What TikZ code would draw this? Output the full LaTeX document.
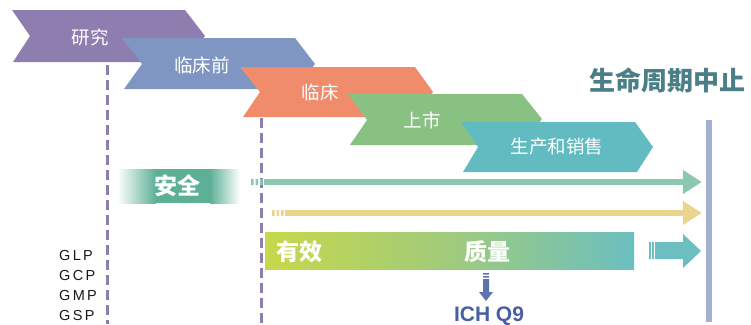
\documentclass[tikz,border=0pt]{standalone}
\usepackage{fontspec}
\setmainfont{Liberation Sans}
\newfontfamily\cjk{Noto Sans CJK SC}
\newfontfamily\gxp{Liberation Sans}[LetterSpace=16]
\usetikzlibrary{arrows.meta}
\definecolor{cPurple}{HTML}{8E7DAF}
\definecolor{cBlue}{HTML}{7F96C3}
\definecolor{cOrange}{HTML}{F08B6B}
\definecolor{cGreen}{HTML}{88C182}
\definecolor{cTeal}{HTML}{62BBC0}
\definecolor{cTitle}{HTML}{4B7F88}
\definecolor{cBar}{HTML}{A3B0D0}
\definecolor{cSafe}{HTML}{5DB096}
\definecolor{cSafeLine}{HTML}{8CC7B0}
\definecolor{cYellow}{HTML}{EBD48D}
\definecolor{cG1}{HTML}{C6D84B}
\definecolor{cG2}{HTML}{A0CB7C}
\definecolor{cG3}{HTML}{6BBFC0}
\definecolor{cBlock}{HTML}{6BBFC0}
\definecolor{cIch}{HTML}{4A5FA0}
\definecolor{cDown}{HTML}{5E72AE}
\tikzset{
  chevtext/.style={text=white, inner sep=0, font=\cjk\fontsize{18.5}{19}\selectfont},
  bigtext/.style={text=white, inner sep=0, font=\cjk\bfseries\fontsize{23}{24}\selectfont},
  gxptext/.style={anchor=base west, inner sep=0, text=black!90, font=\gxp\fontsize{14.5}{15}\selectfont},
  vdash/.style={draw=cPurple, line width=3pt, dash pattern=on 10pt off 5pt},
}
\begin{document}
\begin{tikzpicture}[x=1pt,y=-1pt]
\useasboundingbox (0,0) rectangle (751,324);
% dashed guides
\draw[vdash] (107,65) -- (107,324);
\draw[vdash] (261,118) -- (261,324);
% chevrons
\fill[cPurple] (12,10)--(185,10)--(205,36)--(185,62)--(13,62)--(30,36)--cycle;
\node[chevtext] (research) at (90,37) {研究};
\fill[cBlue] (122,38)--(295,38)--(315,64)--(295,89)--(124,89)--(142,64)--cycle;
\node[chevtext] (preclin) at (202,65) {临床前};
\fill[cOrange] (240,67)--(415,67)--(433,92)--(415,117)--(243,117)--(260,92)--cycle;
\node[chevtext] (clin) at (320,92) {临床};
\fill[cGreen] (348,94)--(522,94)--(542,119)--(522,145)--(350,145)--(367,120)--cycle;
\node[chevtext] (market) at (422,120) {上市};
\fill[cTeal] (461,122)--(635,122)--(653,147)--(637,172)--(463,172)--(478,147)--cycle;
\node[chevtext] (prod) at (557,147) {生产和销售};
% title
\node[inner sep=0, text=cTitle, font=\cjk\bfseries\fontsize{26}{26}\selectfont] (title) at (667,80) {生命周期中止};
% end bar
\node[fill=cBar, inner sep=0, minimum width=6pt, minimum height=202pt] (bar) at (709,221) {};
% safety box
\shade[left color=white, right color=cSafe] (117,169) rectangle (156,203);
\fill[cSafe] (155.5,169) rectangle (210.5,203);
\shade[left color=cSafe, right color=white] (210,169) rectangle (240,203);
\node[bigtext] (safe) at (177,186) {安全};
% safety arrow
\fill[cSafeLine] (251,179) rectangle (253.5,185) (255.5,179) rectangle (258,185) (260,179) rectangle (262.5,185);
\coordinate (safeS) at (264,182);
\draw[cSafeLine, line width=6pt, -{Triangle[length=19pt,width=23pt]}] (safeS) -- ([xshift=-4pt]bar.west |- safeS);
% yellow arrow
\fill[cYellow] (272,210) rectangle (274.5,216) (276.5,210) rectangle (279,216) (281,210) rectangle (283.5,216);
\coordinate (yelS) at (285,213);
\draw[cYellow, line width=6pt, -{Triangle[length=19pt,width=23pt]}] (yelS) -- ([xshift=-4pt]bar.west |- yelS);
% efficacy / quality bar
\shade[left color=cG1, right color=cG2] (265,232) rectangle (450.5,269);
\shade[left color=cG2, right color=cG3] (450,232) rectangle (634,269);
\node[bigtext] (eff) at (299,252) {有效};
\node[bigtext] (qual) at (487,252) {质量};
% block arrow
\fill[cBlock] (649,242) rectangle (650.8,259) (652,242) rectangle (653.8,259);
\fill[cBlock] (655,242) -- (683,242) -- (683,234) -- (701,251) -- (683,268) -- (683,259) -- (655,259) -- cycle;
% down arrow to ICH Q9
\fill[cDown] (483,273) rectangle (489,274.5) (483,276) rectangle (489,277.5);
\fill[cDown] (483,279) -- (489,279) -- (489,292) -- (493,292) -- (486,301) -- (479,292) -- (483,292) -- cycle;
\node[anchor=base, inner sep=0, text=cIch, font=\bfseries\fontsize{21}{21}\selectfont] (ich) at (489,321) {ICH Q9};
% GxP list
\node[gxptext] (glp) at (59,260) {GLP};
\node[gxptext] (gcp) at (59,280) {GCP};
\node[gxptext] (gmp) at (59,300) {GMP};
\node[gxptext] (gsp) at (59,320) {GSP};
\end{tikzpicture}
\end{document}
